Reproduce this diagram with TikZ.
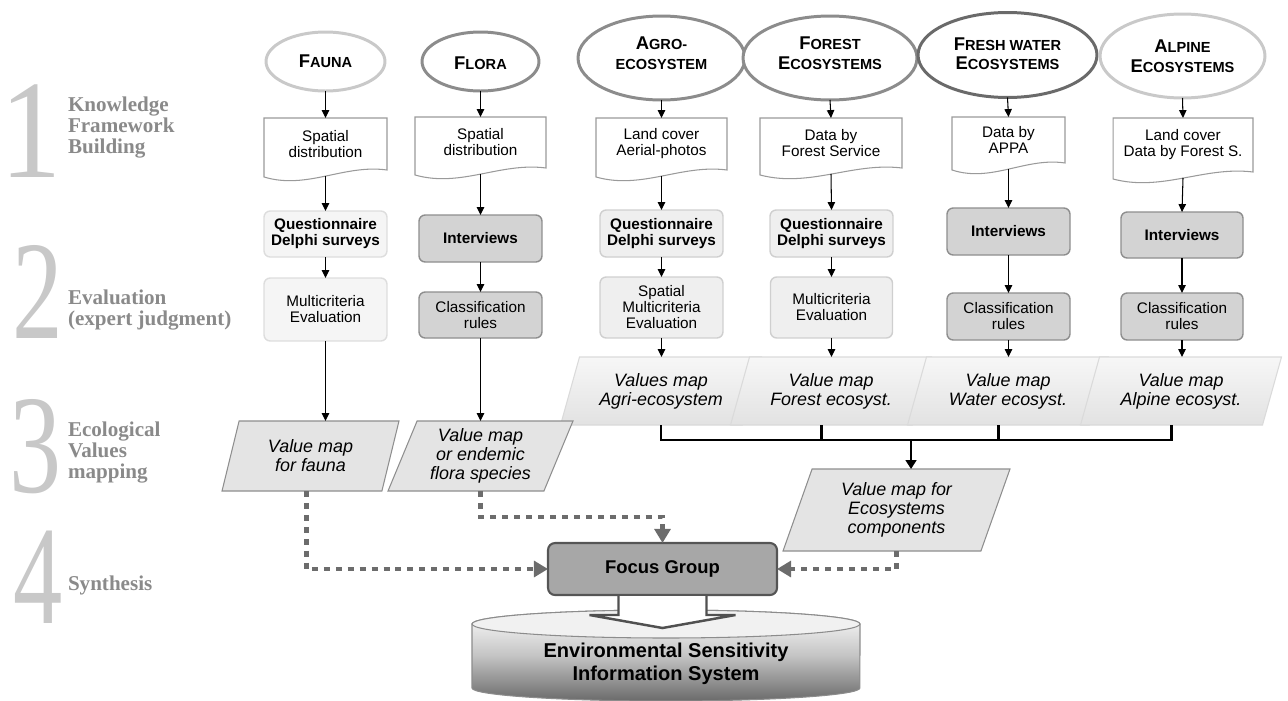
\documentclass[tikz,border=0pt]{standalone}
\usepackage{fontspec}
\usepackage{graphicx}
\setmainfont{Liberation Sans}
\newfontfamily\serifface{Liberation Serif}
\usetikzlibrary{arrows.meta,shapes.geometric,calc}

\definecolor{ringlight}{HTML}{C9C9C9}
\definecolor{ringmid}{HTML}{8C8C8C}
\definecolor{ringdark}{HTML}{6A6A6A}
\definecolor{docline}{HTML}{9A9A9A}
\definecolor{softfill}{HTML}{F5F5F5}
\definecolor{softline}{HTML}{DDDDDD}
\definecolor{softfillB}{HTML}{EFEFEF}
\definecolor{softlineB}{HTML}{CFCFCF}
\definecolor{greyfill}{HTML}{D3D3D3}
\definecolor{greyline}{HTML}{8E8E8E}
\definecolor{mapfill}{HTML}{E4E4E4}
\definecolor{mapline}{HTML}{8E8E8E}
\definecolor{ecotop}{HTML}{F7F7F7}
\definecolor{ecobottom}{HTML}{E2E2E2}
\definecolor{ecoline}{HTML}{DADADA}
\definecolor{dotgrey}{HTML}{6C6C6C}
\definecolor{focusfill}{HTML}{A7A7A7}
\definecolor{focusline}{HTML}{555555}
\definecolor{cylline}{HTML}{8C8C8C}
\definecolor{cyltop}{HTML}{F1F1F1}
\definecolor{cylmid}{HTML}{C4C4C4}
\definecolor{cyldark}{HTML}{6A6A6A}
\definecolor{arrowedge}{HTML}{505050}
\definecolor{labelgrey}{HTML}{8A8A8A}
\definecolor{digitgrey}{HTML}{C8C8C8}

% capital letter followed by small capitals
\newcommand\capsm[2]{{\fontsize{10.5}{11.3}\selectfont #1}#2}
% document symbol: straight top and sides, wavy bottom below the node
\newcommand\docoutline[1]{%
  \draw[docedge] (#1.north west) -- (#1.north east) -- (#1.south east)
    .. controls ($(#1.south east)!0.35!(#1.south west)+(0,-6)$)
    and ($(#1.south west)!0.35!(#1.south east)+(0,20)$)
    .. ($(#1.south west)+(0,7)$) -- cycle;}

\begin{document}
\begin{tikzpicture}[x=0.02cm,y=-0.02cm,
  every node/.style={inner sep=0pt,outer sep=0pt},
  txt/.style={font=\fontsize{8.7}{9.1}\selectfont, align=center},
  strong/.style={font=\bfseries\fontsize{8.7}{9.1}\selectfont, align=center},
  topic/.style={ellipse, line width=1.7pt, fill=white, align=center,
    font=\bfseries\fontsize{8.3}{11.3}\selectfont},
  docedge/.style={draw=docline, line width=0.6pt},
  softbox/.style={rounded corners=3.5pt, draw=softline, fill=softfill, line width=0.8pt},
  ecosoft/.style={rounded corners=3.5pt, draw=softlineB, fill=softfillB, line width=0.8pt},
  greybox/.style={rounded corners=3.5pt, draw=greyline, fill=greyfill, line width=0.8pt},
  mapbase/.style={trapezium, trapezium left angle=62, trapezium right angle=118,
    trapezium stretches body=true, align=center,
    font=\itshape\fontsize{10.2}{10.8}\selectfont, line width=0.6pt},
  speciesmap/.style={mapbase, draw=mapline, fill=mapfill},
  ecomap/.style={mapbase, draw=ecoline, top color=ecotop, bottom color=ecobottom},
  link/.style={draw=black, line width=0.6pt, -{Triangle[length=4.5pt,width=4.2pt]}},
  bus/.style={draw=black, line width=1.6pt},
  busarrow/.style={bus, -{Triangle[length=5pt,width=6pt]}},
  dots/.style={draw=dotgrey, line width=2.8pt, dash pattern=on 3.4pt off 3.4pt,
    -{Triangle[length=8pt,width=9pt]}},
  focusbox/.style={rounded corners=4pt, draw=focusline, fill=focusfill, line width=1.2pt,
    font=\bfseries\fontsize{10.5}{12}\selectfont},
  digit/.style={anchor=base west, font=\serifface\fontsize{80}{80}\selectfont, text=digitgrey},
  labeltxt/.style={anchor=base west, align=left,
    font=\serifface\bfseries\fontsize{12}{11.8}\selectfont, text=labelgrey}
]
\useasboundingbox (0,0) rectangle (1288,700);

% ---------- stage labels (anchored on the baseline of the last line) ----------
\node[digit] (n1) at (0,177) {\scalebox{0.87}[1]{1}};
\node[digit] (n2) at (12,338) {\scalebox{0.72}[1]{2}};
\node[digit] (n3) at (10,492) {\scalebox{0.74}[1]{3}};
\node[digit] (n4) at (13,623) {\scalebox{0.70}[1]{4}};
\node[labeltxt] (l1) at (68,153) {Knowledge\\Framework\\Building};
\node[labeltxt] (l2) at (68,325) {Evaluation\\(expert judgment)};
\node[labeltxt] (l3) at (68,478) {Ecological\\Values\\mapping};
\node[labeltxt] (l4) at (68,590) {Synthesis};

% ---------- themes ----------
\node[topic, draw=ringlight, minimum width=2.38cm, minimum height=1.18cm] (fa-top) at (325.5,61.5) {\capsm{F}{AUNA}};
\node[topic, draw=ringmid, minimum width=2.34cm, minimum height=1.18cm, text height=9pt] (fl-top) at (480.5,61.5) {\capsm{F}{LORA}};
\node[topic, draw=ringmid, minimum width=3.34cm, minimum height=1.68cm, text depth=5.6pt] (ag-top) at (661.5,58) {\capsm{A}{GRO-}\\ECOSYSTEM};
\node[topic, draw=ringmid, minimum width=3.48cm, minimum height=1.68cm, text depth=5.6pt] (fo-top) at (830,58) {\capsm{F}{OREST}\\\capsm{E}{COSYSTEMS}};
\node[topic, draw=ringdark, minimum width=3.58cm, minimum height=1.70cm, text depth=1.5pt] (fw-top) at (1007.5,55) {\capsm{F}{RESH WATER}\\\capsm{E}{COSYSTEMS}};
\node[topic, draw=ringlight, minimum width=3.30cm, minimum height=1.68cm] (al-top) at (1182.5,56) {\capsm{A}{LPINE}\\\capsm{E}{COSYSTEMS}};

% ---------- data sources ----------
\node[txt, minimum width=2.46cm, minimum height=1.04cm] (fa-doc) at (325.5,144) {Spatial\\distribution};
\node[txt, minimum width=2.62cm, minimum height=1.02cm] (fl-doc) at (480.5,142.5) {Spatial\\distribution};
\node[txt, minimum width=2.62cm, minimum height=1.04cm] (ag-doc) at (661.5,144) {Land cover\\Aerial-photos};
\node[txt, minimum width=2.84cm, minimum height=1.00cm] (fo-doc) at (831,143) {Data by\\Forest Service};
\node[txt, minimum width=2.26cm, minimum height=0.92cm] (fw-doc) at (1008.5,140) {Data by\\APPA};
\node[txt, minimum width=2.80cm, minimum height=1.08cm] (al-doc) at (1183,145) {Land cover\\Data by Forest S.};
\docoutline{fa-doc}
\docoutline{fl-doc}
\docoutline{ag-doc}
\docoutline{fo-doc}
\docoutline{fw-doc}
\docoutline{al-doc}

% ---------- expert evaluation ----------
\node[softbox, strong, minimum width=2.46cm, minimum height=0.92cm] (fa-q) at (325.5,234) {Questionnaire\\Delphi surveys};
\node[softbox, txt, minimum width=2.46cm, minimum height=1.26cm] (fa-e) at (325.5,309.5) {Multicriteria\\Evaluation};
\node[greybox, strong, minimum width=2.46cm, minimum height=0.94cm] (fl-i) at (480.5,238.5) {Interviews};
\node[greybox, txt, minimum width=2.46cm, minimum height=0.92cm] (fl-c) at (480.5,315) {Classification\\rules};
\node[ecosoft, strong, minimum width=2.46cm, minimum height=0.94cm] (ag-q) at (661.5,233.5) {Questionnaire\\Delphi surveys};
\node[ecosoft, txt, minimum width=2.46cm, minimum height=1.22cm] (ag-e) at (661.5,307.5) {Spatial\\Multicriteria\\Evaluation};
\node[ecosoft, strong, minimum width=2.46cm, minimum height=0.94cm] (fo-q) at (831.5,233.5) {Questionnaire\\Delphi surveys};
\node[ecosoft, txt, minimum width=2.44cm, minimum height=1.22cm] (fo-e) at (831.5,307.5) {Multicriteria\\Evaluation};
\node[greybox, strong, minimum width=2.46cm, minimum height=0.94cm] (fw-i) at (1008.5,231.5) {Interviews};
\node[greybox, txt, minimum width=2.46cm, minimum height=0.94cm] (fw-c) at (1008.5,316.5) {Classification\\rules};
\node[greybox, strong, minimum width=2.44cm, minimum height=0.92cm] (al-i) at (1182,235) {Interviews};
\node[greybox, txt, minimum width=2.44cm, minimum height=0.94cm] (al-c) at (1182,316.5) {Classification\\rules};

% ---------- value maps ----------
\node[ecomap, minimum width=4.02cm, minimum height=1.36cm] (ag-map) at (661,391) {Values map\\Agri-ecosystem};
\node[ecomap, minimum width=4.02cm, minimum height=1.36cm] (fo-map) at (831,391) {Value map\\Forest ecosyst.};
\node[ecomap, minimum width=4.02cm, minimum height=1.36cm] (fw-map) at (1008,391) {Value map\\Water ecosyst.};
\node[ecomap, minimum width=4.02cm, minimum height=1.36cm] (al-map) at (1181,391) {Value map\\Alpine ecosyst.};
\node[speciesmap, minimum width=3.54cm, minimum height=1.40cm] (fa-map) at (310.5,456) {Value map\\for fauna};
\node[speciesmap, minimum width=3.70cm, minimum height=1.40cm] (fl-map) at (480.5,456) {Value map\\or endemic\\flora species};
\node[speciesmap, minimum width=4.54cm, minimum height=1.64cm] (eco-map) at (896.5,510) {Value map for\\Ecosystems\\components};

% ---------- synthesis ----------
\node[focusbox, minimum width=4.58cm, minimum height=1.04cm] (focus) at (662.5,569) {Focus Group};

% ---------- connectors ----------
\draw[link] (fa-top.south) -- (fa-doc.north);
\draw[link] (fl-top.south) -- (fl-doc.north);
\draw[link] (ag-top.south) -- (ag-doc.north);
\draw[link] (fo-top.south) -- (fo-doc.north);
\draw[link] (fw-top.south) -- (fw-doc.north);
\draw[link] (al-top.south) -- (al-doc.north);

\draw[link] ($(fa-doc.south)+(0,6)$) -- (fa-q.north);
\draw[link] ($(fl-doc.south)+(0,6)$) -- (fl-i.north);
\draw[link] ($(ag-doc.south)+(0,6)$) -- (ag-q.north);
\draw[link] ($(fo-doc.south)+(0,6)$) -- (fo-q.north);
\draw[link] ($(fw-doc.south)+(0,6)$) -- (fw-i.north);
\draw[link] ($(al-doc.south)+(0,6)$) -- (al-i.north);

\draw[link] (fa-q.south) -- (fa-e.north);
\draw[link] (fl-i.south) -- (fl-c.north);
\draw[link] (ag-q.south) -- (ag-e.north);
\draw[link] (fo-q.south) -- (fo-e.north);
\draw[link] (fw-i.south) -- (fw-c.north);
\draw[link] (al-i.south) -- (al-c.north);

\draw[link] (fa-e.south) -- (fa-e.south |- fa-map.north);
\draw[link] (fl-c.south) -- (fl-c.south |- fl-map.north);
\draw[link] (ag-e.south) -- (ag-e.south |- ag-map.north);
\draw[link] (fo-e.south) -- (fo-e.south |- fo-map.north);
\draw[link] (fw-c.south) -- (fw-c.south |- fw-map.north);
\draw[link] (al-c.south) -- (al-c.south |- al-map.north);

% collector bar of the ecosystem maps
\coordinate (busline) at (0,440);
\draw[bus] (ag-map.south) |- (busline -| al-map.bottom side) -- (al-map.bottom side);
\draw[bus] (fo-map.bottom side) -- (fo-map.bottom side |- busline);
\draw[bus] (fw-map.bottom side) -- (fw-map.bottom side |- busline);
\draw[busarrow] (eco-map.top side |- busline) -- (eco-map.top side);

% dotted feeds into the focus group
\draw[dots] ($(fa-map.south)!0.5!(fa-map.bottom side)$) |- (focus.west);
\draw[dots] (fl-map.south) -- ++(0,26) -| (focus.north);
\draw[dots] (eco-map.south) |- (focus.east);

% ---------- information system ----------
\path[draw=cylline, line width=0.6pt, top color=white, bottom color=cyldark, middle color=cylmid]
  (472,624) -- (472,688) arc[start angle=180, end angle=360, x radius=3.88cm, y radius=0.26cm]
  -- (860,624) arc[start angle=0, end angle=180, x radius=3.88cm, y radius=0.28cm] -- cycle;
\draw[draw=cylline, fill=cyltop, line width=0.6pt] (666,624) ellipse [x radius=3.88cm, y radius=0.28cm];
\draw[fill=white, draw=arrowedge, line width=1.4pt, line join=miter]
  ($(focus.south)+(-44,1)$) -- ++(0,19) -- ++(-29,0) -- ($(focus.south)+(0,33)$)
  -- ($(focus.south)+(73,20)$) -- ++(-29,0) -- ++(0,-19);
\node[font=\bfseries\fontsize{11.4}{13}\selectfont, align=center] (esis) at (666,664)
  {Environmental Sensitivity\\Information System};
\end{tikzpicture}
\end{document}
